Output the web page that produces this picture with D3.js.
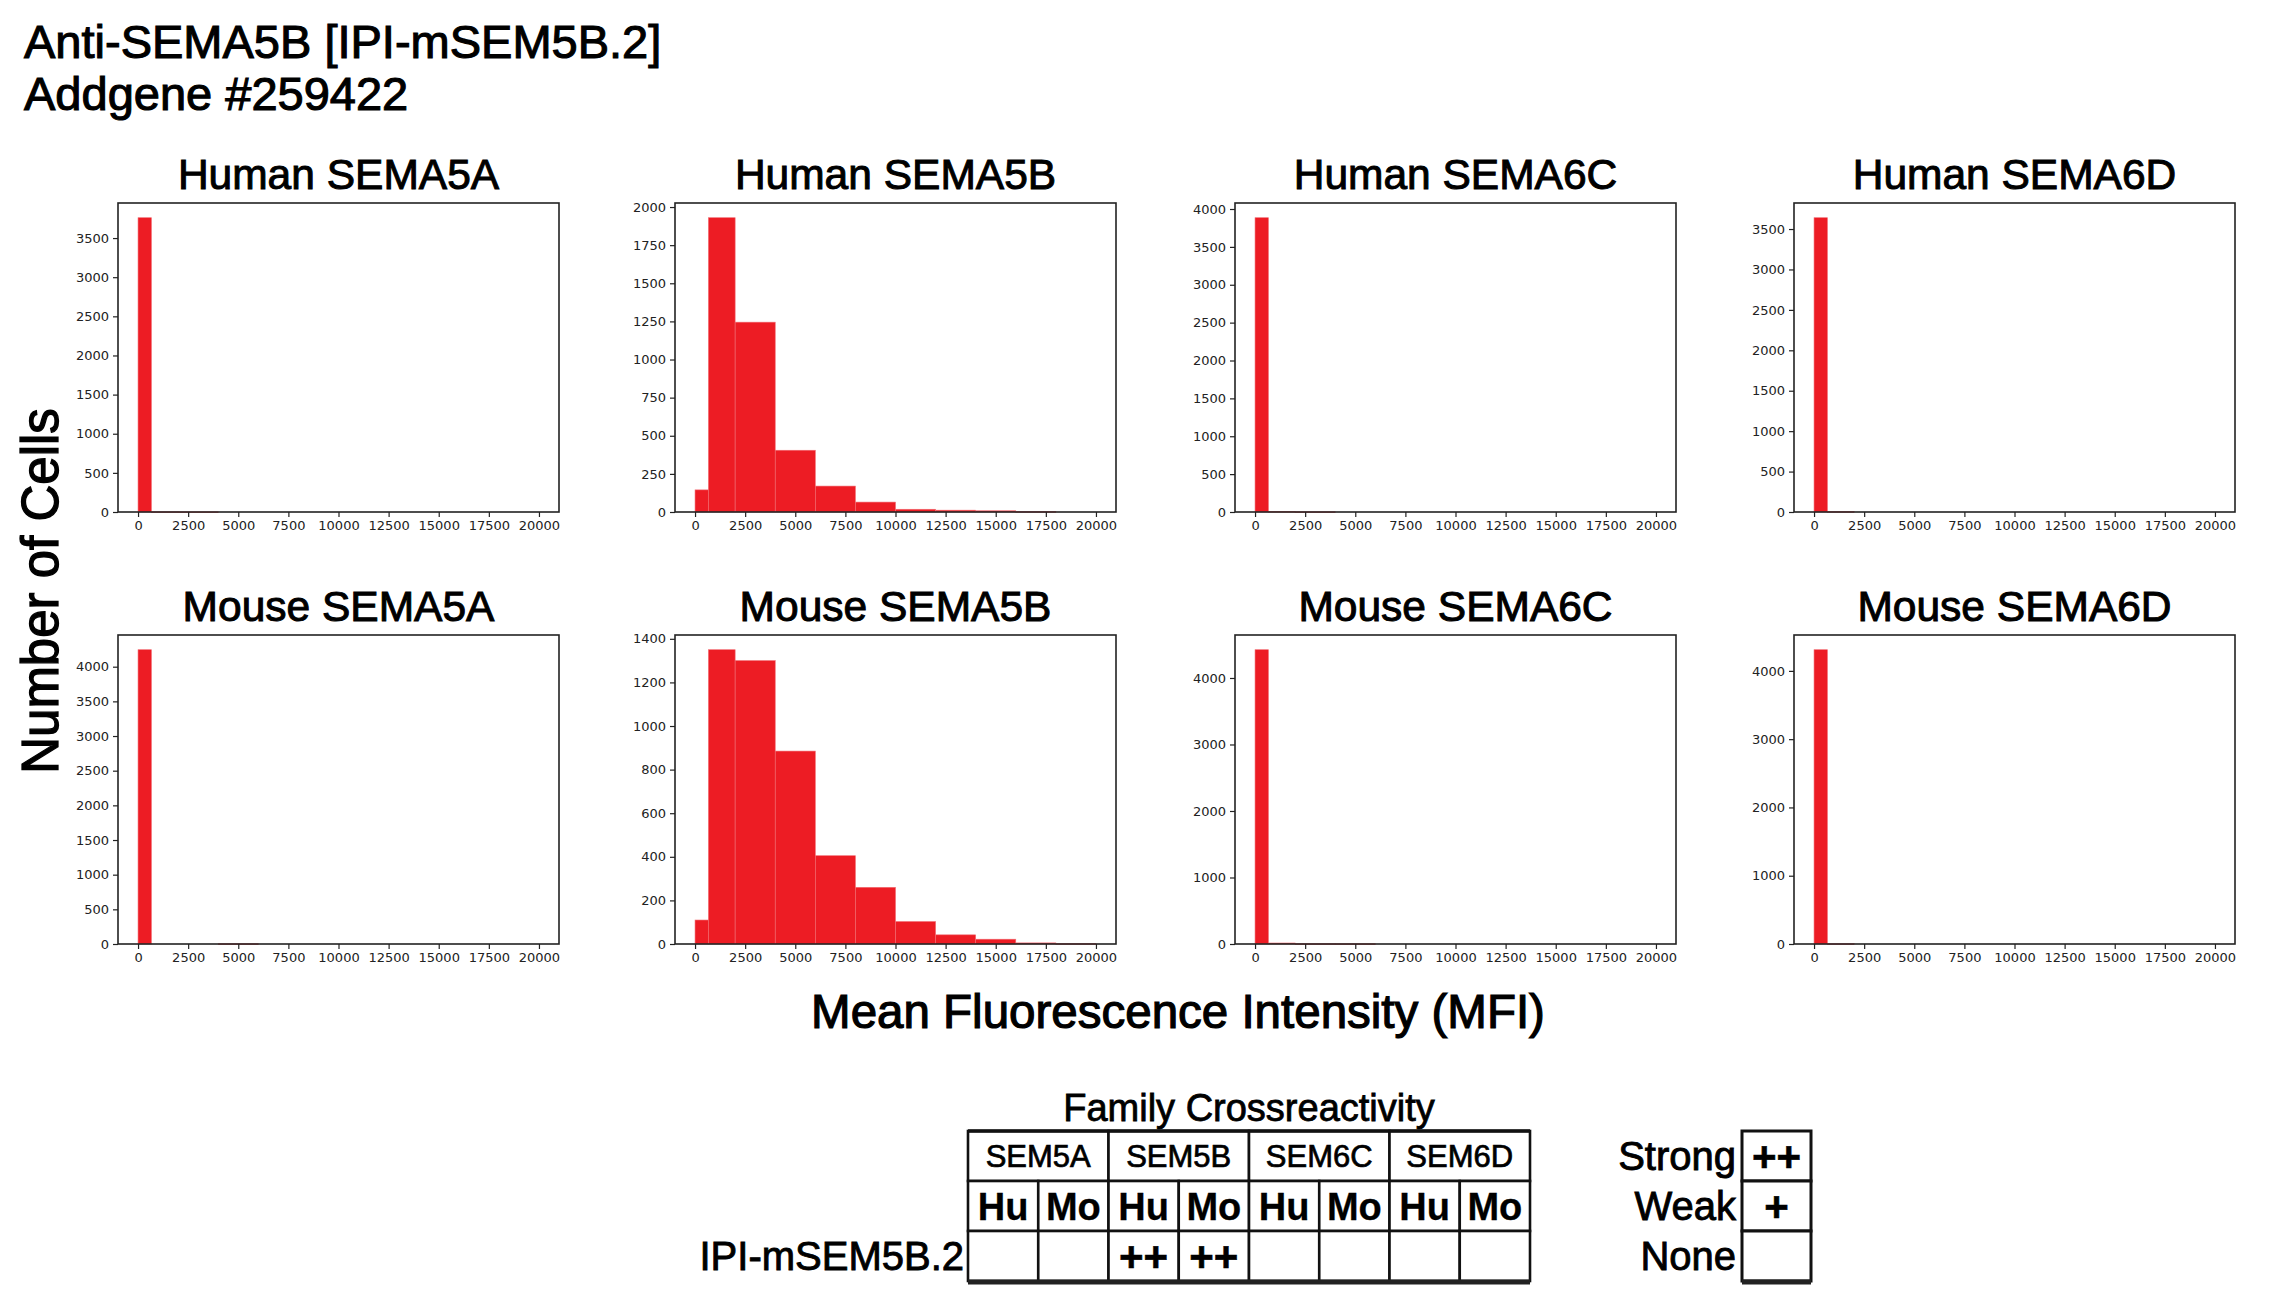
<!DOCTYPE html>
<html>
  <head>
    <meta charset="utf-8">
    <script type="text/javascript" src="https://cdn.jsdelivr.net/npm/d3@7"></script>
    <style>
      body { margin: 0; background: #fff; }
      svg { display: block; }
    </style>
  </head>
  <body>
    <script type="text/javascript">

// histogram bin edges (MFI)
var binEdges = [0, 667, 2000, 4000, 6000, 8000, 10000, 12000, 14000, 16000, 18000, 20000];

// counts per bin
var humanSEMA5A = [3760, 3, 2, 0, 0, 0, 0, 0, 0, 0, 0];
var humanSEMA5B = [145, 1930, 1245, 405, 170, 65, 18, 12, 8, 3, 0];
var humanSEMA6C = [3885, 8, 3, 0, 0, 0, 0, 0, 0, 0, 0];
var humanSEMA6D = [3640, 6, 0, 0, 0, 0, 0, 0, 0, 0, 0];
var mouseSEMA5A = [4245, 0, 0, 4, 0, 0, 0, 0, 0, 0, 0];
var mouseSEMA5B = [110, 1350, 1300, 885, 405, 260, 103, 42, 22, 5, 2];
var mouseSEMA6C = [4425, 15, 5, 4, 0, 0, 0, 0, 0, 0, 0];
var mouseSEMA6D = [4310, 5, 0, 0, 0, 0, 0, 0, 0, 0, 0];

var panelTitles = ["Human SEMA5A", "Human SEMA5B", "Human SEMA6C", "Human SEMA6D",
                   "Mouse SEMA5A", "Mouse SEMA5B", "Mouse SEMA6C", "Mouse SEMA6D"];
var panelCounts = [humanSEMA5A, humanSEMA5B, humanSEMA6C, humanSEMA6D,
                   mouseSEMA5A, mouseSEMA5B, mouseSEMA6C, mouseSEMA6D];
var yTickSteps = [500, 250, 500, 500, 500, 200, 1000, 1000];
var xTicks = [0, 2500, 5000, 7500, 10000, 12500, 15000, 17500, 20000];

// crossreactivity table
var familyGroups = ["SEM5A", "SEM5B", "SEM6C", "SEM6D"];
var species = ["Hu", "Mo"];
var cloneName = "IPI-mSEM5B.2";
var reactivity = ["", "", "++", "++", "", "", "", ""];
var legendLabels = ["Strong", "Weak", "None"];
var legendSymbols = ["++", "+", ""];

var w = 2285;
var h = 1302;
var sans = "'Liberation Sans', Arial, Helvetica, sans-serif";
var red = "#ed1c24";

var svg = d3.select("body")
  .append("svg")
  .attr("width", w)
  .attr("height", h);

// heavier strokes mimic the medium weight of the original type
function label(sel, size, weight) {
  return sel.style("font-family", sans)
    .style("font-size", size + "px")
    .style("fill", "#000")
    .style("stroke", "#000")
    .style("stroke-width", weight);
}

// header
label(svg.append("text").attr("x", 24).attr("y", 58), 47, 1.1)
  .text("Anti-SEMA5B [IPI-mSEM5B.2]");
label(svg.append("text").attr("x", 24).attr("y", 110), 47, 1.1)
  .text("Addgene #259422");

var colX = [118, 675, 1235, 1794];
var rowY = [203, 635];
var pw = 441;
var ph = 309;

panelCounts.forEach(function(counts, i) {
  var px = colX[i % 4];
  var py = rowY[Math.floor(i / 4)];
  var g = svg.append("g").attr("transform", "translate(" + px + "," + py + ")");

  var ymax = d3.max(counts) * 1.05;
  var x = d3.scaleLinear().domain([-1000, 21000]).range([0, pw]);
  var y = d3.scaleLinear().domain([0, ymax]).range([ph, 0]);

  var bins = counts.map(function(d, j) {
    return { x0: binEdges[j], x1: binEdges[j + 1], n: d };
  }).filter(function(b) { return b.n > 0; });

  g.selectAll("rect.bar")
    .data(bins)
    .enter()
    .append("rect")
    .attr("class", "bar")
    .attr("x", function(b) { return x(b.x0); })
    .attr("width", function(b) { return x(b.x1) - x(b.x0); })
    .attr("y", function(b) { return y(b.n); })
    .attr("height", function(b) { return Math.max(y(0) - y(b.n), 0.8); })
    .style("fill", red)
    .style("stroke", "#f26a70")
    .style("stroke-width", 0.6);

  var yTicks = d3.range(0, ymax, yTickSteps[i]);

  var xAxis = g.append("g")
    .attr("transform", "translate(0," + ph + ")")
    .call(d3.axisBottom(x).tickValues(xTicks).tickFormat(d3.format("d")).tickSize(5).tickPadding(4));
  var yAxis = g.append("g")
    .call(d3.axisLeft(y).tickValues(yTicks).tickFormat(d3.format("d")).tickSize(5).tickPadding(4));

  [xAxis, yAxis].forEach(function(a) {
    a.select(".domain").remove();
    a.selectAll(".tick line").style("stroke", "#222").style("stroke-width", 1.2);
    a.selectAll(".tick text")
      .style("font-family", "'DejaVu Sans', sans-serif")
      .style("font-size", "13px")
      .style("fill", "#222");
  });

  g.append("rect")
    .attr("width", pw).attr("height", ph)
    .style("fill", "none")
    .style("stroke", "#222")
    .style("stroke-width", 1.6);

  label(g.append("text").attr("x", pw / 2).attr("y", -14).attr("text-anchor", "middle"), 42.5, 1)
    .text(panelTitles[i]);
});

// axis titles
label(svg.append("text").attr("x", 1178).attr("y", 1028).attr("text-anchor", "middle"), 47.5, 1.2)
  .text("Mean Fluorescence Intensity (MFI)");

label(svg.append("text")
  .attr("transform", "translate(58,591) rotate(-90)")
  .attr("text-anchor", "middle"), 51, 1.3)
  .text("Number of Cells");

// crossreactivity table
var tx0 = 968;
var cw = 70.25;
var rows = [1131, 1181, 1231, 1281];

label(svg.append("text").attr("x", tx0 + cw * 4).attr("y", 1121).attr("text-anchor", "middle"), 38, 0.8)
  .text("Family Crossreactivity");

var tbl = svg.append("g");

familyGroups.forEach(function(name, k) {
  tbl.append("rect")
    .attr("x", tx0 + k * 2 * cw).attr("y", rows[0])
    .attr("width", 2 * cw).attr("height", rows[1] - rows[0])
    .style("fill", "#fff").style("stroke", "#111").style("stroke-width", 2.6);
  label(tbl.append("text")
    .attr("x", tx0 + (k * 2 + 1) * cw).attr("y", (rows[0] + rows[1]) / 2 + 11)
    .attr("text-anchor", "middle"), 31, 0.7)
    .text(name);
});

reactivity.forEach(function(val, j) {
  var cx = tx0 + j * cw;
  tbl.append("rect")
    .attr("x", cx).attr("y", rows[1])
    .attr("width", cw).attr("height", rows[2] - rows[1])
    .style("fill", "#fff").style("stroke", "#111").style("stroke-width", 2.6);
  label(tbl.append("text")
    .attr("x", cx + cw / 2).attr("y", (rows[1] + rows[2]) / 2 + 14)
    .attr("text-anchor", "middle"), 38, 0.3)
    .style("font-weight", "bold")
    .text(species[j % 2]);
  tbl.append("rect")
    .attr("x", cx).attr("y", rows[2])
    .attr("width", cw).attr("height", rows[3] - rows[2])
    .style("fill", "#fff").style("stroke", "#111").style("stroke-width", 2.6);
  label(tbl.append("text")
    .attr("x", cx + cw / 2).attr("y", (rows[2] + rows[3]) / 2 + 15)
    .attr("text-anchor", "middle"), 42, 0.6)
    .style("font-weight", "bold")
    .text(val);
});

// thick top / bottom rules
tbl.append("line")
  .attr("x1", tx0).attr("x2", tx0 + 8 * cw)
  .attr("y1", rows[0]).attr("y2", rows[0])
  .style("stroke", "#111").style("stroke-width", 3.5);
tbl.append("line")
  .attr("x1", tx0).attr("x2", tx0 + 8 * cw)
  .attr("y1", rows[3] + 1).attr("y2", rows[3] + 1)
  .style("stroke", "#222").style("stroke-width", 5);

label(svg.append("text")
  .attr("x", tx0 - 4).attr("y", (rows[2] + rows[3]) / 2 + 14)
  .attr("text-anchor", "end"), 40, 0.9)
  .text(cloneName);

// legend
var lx = 1742;
var lw = 69;
legendLabels.forEach(function(lab, k) {
  svg.append("rect")
    .attr("x", lx).attr("y", rows[k])
    .attr("width", lw).attr("height", rows[k + 1] - rows[k])
    .style("fill", "#fff").style("stroke", "#111").style("stroke-width", 3);
  label(svg.append("text")
    .attr("x", lx + lw / 2).attr("y", (rows[k] + rows[k + 1]) / 2 + 15)
    .attr("text-anchor", "middle"), 42, 0.6)
    .style("font-weight", "bold")
    .text(legendSymbols[k]);
  label(svg.append("text")
    .attr("x", lx - 6).attr("y", (rows[k] + rows[k + 1]) / 2 + 14)
    .attr("text-anchor", "end"), 40, 0.9)
    .text(lab);
});
svg.append("line")
  .attr("x1", lx).attr("x2", lx + lw)
  .attr("y1", rows[3] + 1).attr("y2", rows[3] + 1)
  .style("stroke", "#222").style("stroke-width", 5);

    </script>
  </body>
</html>
